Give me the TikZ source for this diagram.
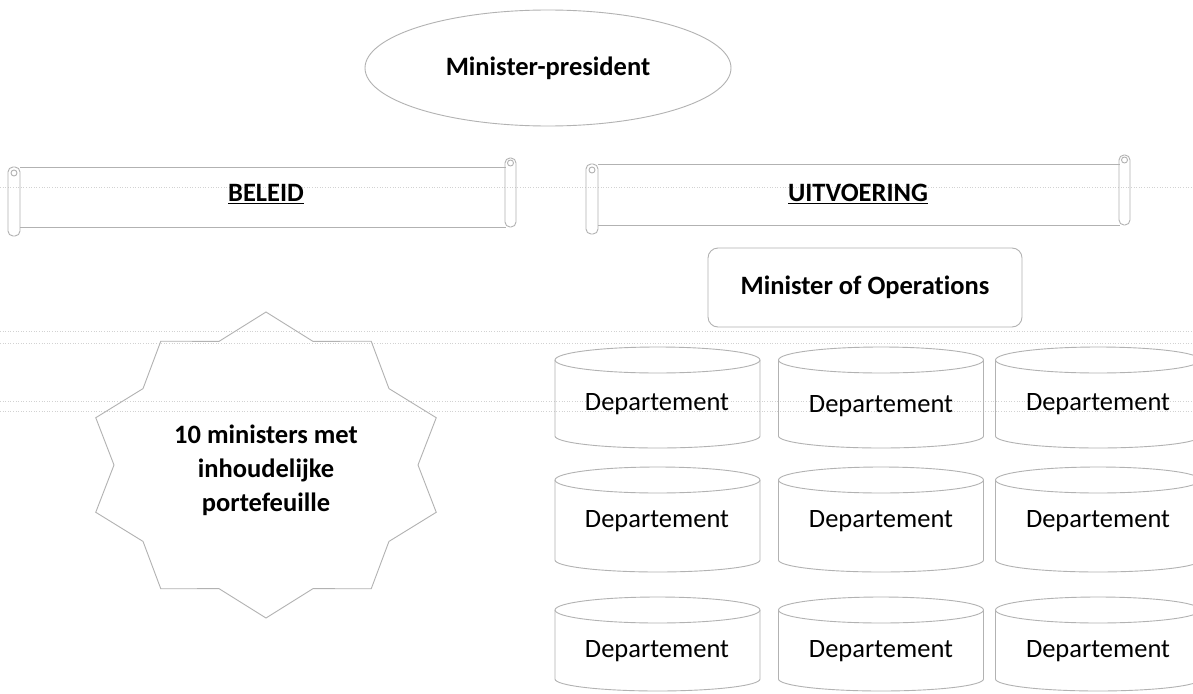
\documentclass[tikz,border=0pt]{standalone}
\usepackage{fontspec}
\setmainfont{Carlito}[Ligatures=NoCommon]
\usetikzlibrary{shapes.geometric}
\newcommand\hscroll[4]{% x1, x2, top, bottom
  \draw[outline] ({#1+12},#3) -- ({#2-10},#3);
  \draw[outline] ({#1+12},#4) -- ({#2-10},#4);
  \draw[outline,rounded corners=5pt] (#1,#3) rectangle ({#1+12},{#4+9});
  \draw[outline] ({#1+6},{#3+6}) circle [radius=3pt];
  \draw[outline,rounded corners=5pt] ({#2-11},{#3-9}) rectangle (#2,#4);
  \draw[outline] ({#2-5.5},{#3-4}) circle [radius=3pt];
}
\newcommand\cylinder[3]{% cx, top, bottom
  \draw[outline] (#1,{#2+13}) ellipse [x radius=102.5pt, y radius=13pt];
  \draw[outline] ({#1-102.5},{#2+13}) -- ({#1-102.5},{#3-12})
    .. controls ({#1-102.5},{#3-5.4}) and ({#1-56.6},#3) .. (#1,#3)
    .. controls ({#1+56.6},#3) and ({#1+102.5},{#3-5.4}) .. ({#1+102.5},{#3-12})
    -- ({#1+102.5},{#2+13});
}
\begin{document}
\begin{tikzpicture}[x=1pt,y=-1pt,
  outline/.style={draw=gray!60, line width=0.9pt},
  guide/.style={draw=gray!35, dotted, line width=0.6pt},
  lbl/.style={font=\fontsize{26.5}{34}\selectfont\bfseries, text=black, align=center},
  dep/.style={font=\fontsize{26.5}{32}\selectfont, text=black}]
\useasboundingbox (0,0) rectangle (1193,693);
\fill[white] (0,0) rectangle (1193,693);

% faint scan guide lines
\foreach \yy in {187,331,343,401,411}
  \draw[guide] (0,\yy) -- (1193,\yy);

% Minister-president
\node[ellipse, outline, minimum width=366pt, minimum height=116pt, lbl] (mp) at (548,68) {Minister-president};

% scrolls
\hscroll{8}{516}{167}{227}
\node[lbl] (beleid) at (266,194) {\underline{BELEID}};
\hscroll{586}{1130}{164}{225}
\node[lbl] (uitv) at (858,194) {\underline{UITVOERING}};

% Minister of Operations
\node[outline, rounded corners=10pt, minimum width=314pt, minimum height=79pt, lbl] (mo) at (865,287.5) {Minister of Operations};

% star
\draw[outline] plot[samples at={0,...,19}, variable=\i]
  ({266+(mod(\i,2)==0 ? 179 : 152)*cos(90+18*\i)}, {465-(mod(\i,2)==0 ? 153 : 130)*sin(90+18*\i)}) -- cycle;
\node[lbl] (ministers) at (266,470) {10 ministers met\\inhoudelijke\\portefeuille};

% departments
\foreach \cx in {657.5,881,1098} {
  \cylinder{\cx}{347}{448}
  \cylinder{\cx}{467}{572}
  \cylinder{\cx}{597}{691}
}
\node[dep] (d11) at (657,404) {Departement};
\node[dep] (d12) at (881,406) {Departement};
\node[dep] (d13) at (1098,404) {Departement};
\node[dep] (d21) at (657,521) {Departement};
\node[dep] (d22) at (881,521) {Departement};
\node[dep] (d23) at (1098,521) {Departement};
\node[dep] (d31) at (657,651) {Departement};
\node[dep] (d32) at (881,651) {Departement};
\node[dep] (d33) at (1098,651) {Departement};
\end{tikzpicture}
\end{document}
